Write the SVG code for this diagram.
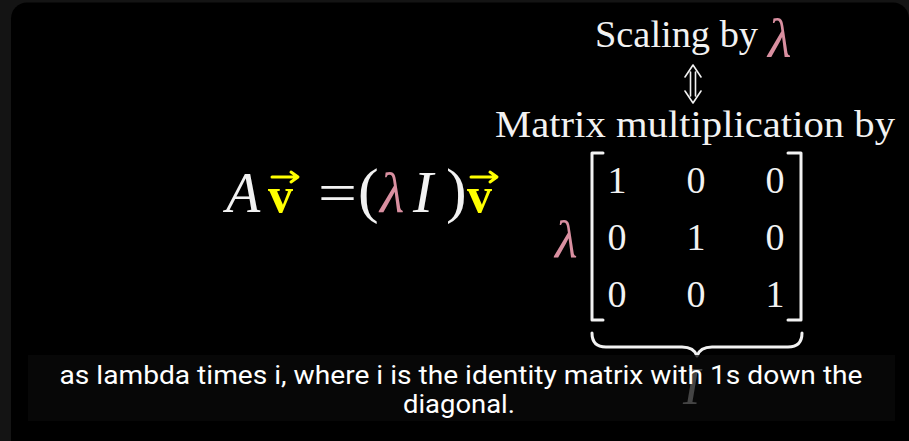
<svg xmlns="http://www.w3.org/2000/svg" width="909" height="441" viewBox="0 0 909 441">
<style>
.m{font-family:"Liberation Serif","DejaVu Serif",serif;fill:#f2f2f2}
.it{font-style:italic}
.pk{fill:#d98fa0}
.yl{fill:#ffff00;font-weight:bold}
.cap{font-family:Roboto,"Liberation Sans",sans-serif;fill:#ffffff;font-size:25px}
.ln{fill:none;stroke:#f2f2f2;stroke-linecap:round;stroke-linejoin:round}
</style>
<rect x="0" y="0" width="909" height="441" fill="#141414"/>
<rect x="11" y="2.5" width="898" height="470" rx="16" fill="#000"/>

<g id="scaling">
<text class="m" x="595" y="47" font-size="38" textLength="163" lengthAdjust="spacingAndGlyphs">Scaling by</text>
<text class="m it pk" x="768" y="57" font-size="54">λ</text>
</g>
<g id="equiv">
<path class="ln" stroke-width="1.6" d="M690.5,72 V96 M695.5,72 V96 M685,77 L693,65 L701,77 M685,91 L693,103 L701,91"/>
</g>
<g id="matrix-mult">
<text class="m" x="495" y="137" font-size="38" textLength="400" lengthAdjust="spacingAndGlyphs">Matrix multiplication by</text>
</g>

<g id="equation">
<text class="m it" x="226" y="212" font-size="56">A</text>
<text class="m yl" x="268" y="212" font-size="50">v</text>
<path d="M272,177 H297 M291,172 L298,177 L291,182" fill="none" stroke="#ffff00" stroke-width="3" stroke-linecap="round" stroke-linejoin="round"/>
<text class="m" x="318" y="212" font-size="56" textLength="39" lengthAdjust="spacingAndGlyphs">=</text>
<text class="m" x="358" y="211" font-size="62">(</text>
<text class="m it pk" x="380" y="212" font-size="56">λ</text>
<text class="m it" x="413" y="212" font-size="60">I</text>
<text class="m" x="446" y="211" font-size="62">)</text>
<text class="m yl" x="467" y="212" font-size="50">v</text>
<path d="M471,177 H496 M490,172 L497,177 L490,182" fill="none" stroke="#ffff00" stroke-width="3" stroke-linecap="round" stroke-linejoin="round"/>
</g>

<g id="matrix">
<text class="m it pk" x="555" y="257" font-size="52">λ</text>
<path class="ln" stroke-width="3" d="M603,153 H592 V320 H603 M788,153 H801 V320 H788"/>
<g class="m" font-size="38" text-anchor="middle">
<text x="617" y="193">1</text><text x="696" y="193">0</text><text x="775" y="193">0</text>
<text x="617" y="250">0</text><text x="696" y="250">1</text><text x="775" y="250">0</text>
<text x="617" y="307">0</text><text x="696" y="307">0</text><text x="775" y="307">1</text>
</g>
</g>

<g id="brace">
<path class="ln" stroke-width="3" d="M592,333 Q592,347 606,347 L682,347 Q694,347 697,356 Q700,347 712,347 L788,347 Q802,347 802,333"/>
<text class="m it" x="683" y="404" font-size="52">I</text>
</g>

<g id="caption">
<rect x="28" y="355" width="867" height="66" fill="#0a0a0a" fill-opacity="0.75"/>
<text class="cap" x="461" y="384" text-anchor="middle" textLength="803" lengthAdjust="spacingAndGlyphs">as lambda times i, where i is the identity matrix with 1s down the</text>
<text class="cap" x="459" y="413" text-anchor="middle" textLength="112" lengthAdjust="spacingAndGlyphs">diagonal.</text>
</g>
</svg>
